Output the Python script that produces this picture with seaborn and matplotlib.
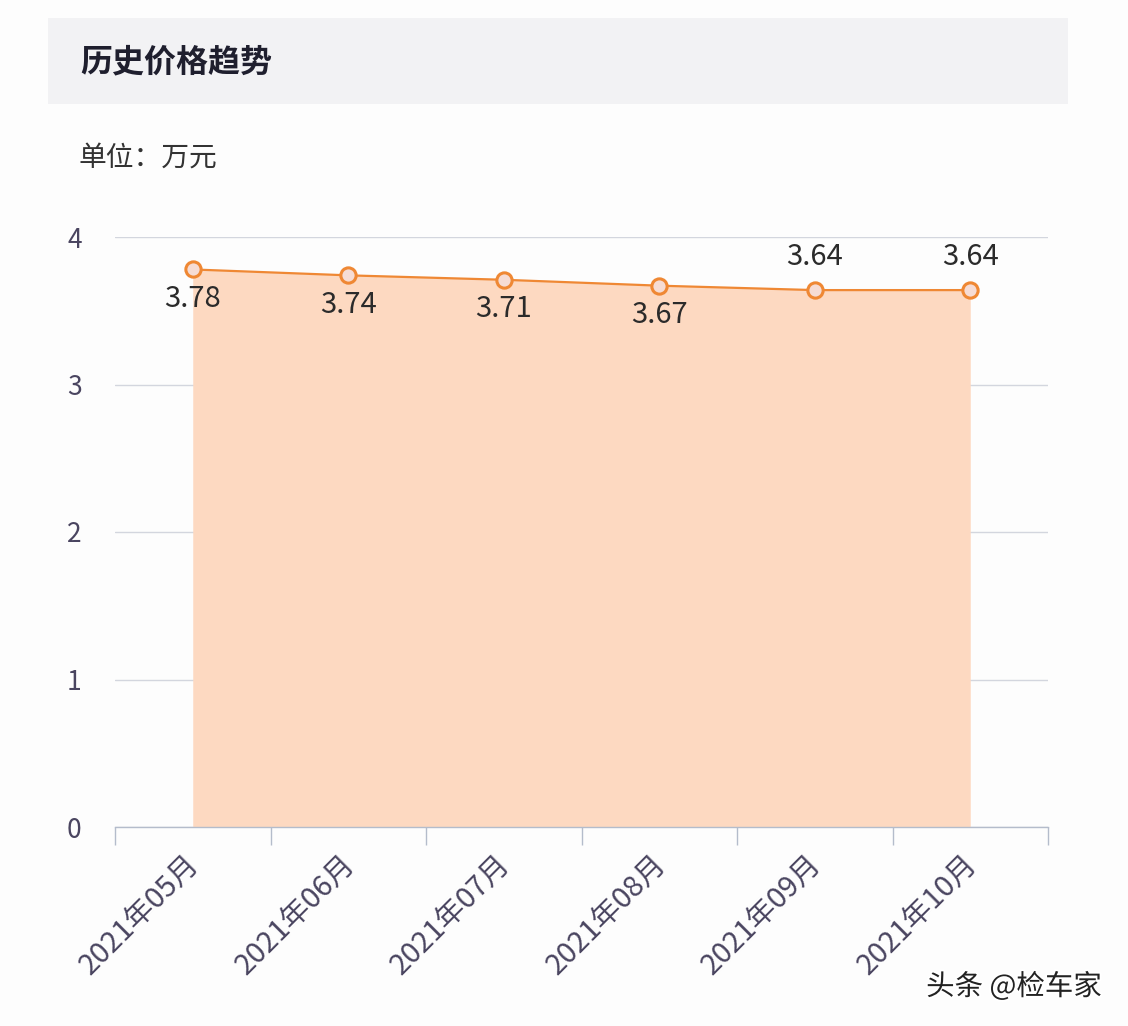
import numpy as np
import pandas as pd
import matplotlib
matplotlib.use("Agg")
import matplotlib.pyplot as plt
import matplotlib.patheffects as pe
from matplotlib.patches import Rectangle
import seaborn as sns

months = ["2021年05月", "2021年06月", "2021年07月", "2021年08月", "2021年09月", "2021年10月"]
prices = [3.78, 3.74, 3.71, 3.67, 3.64, 3.64]
label_above = [False, False, False, False, True, True]
yticks = [0, 1, 2, 3, 4]

sns.set_style("white")
plt.rcParams['font.family'] = ['Noto Sans CJK SC', 'DejaVu Sans']

LINE = "#ef8834"
FILL = "#fdd9c1"
TXT = "#4a4560"

df = pd.DataFrame({"month": months, "price": prices, "pos": np.arange(len(months))})

fig = plt.figure(figsize=(11.28, 10.26), dpi=100, facecolor="#fdfdfd")
ax = fig.add_axes([115 / 1128, 1 - 827 / 1026, (1048 - 115) / 1128, (827 - 237) / 1026])
ax.set_facecolor("#fdfdfd")

# header box
fig.patches.append(Rectangle((48 / 1128, 1 - 104 / 1026), 1020 / 1128, 86 / 1026,
                             transform=fig.transFigure, facecolor="#f2f2f4",
                             edgecolor="none", zorder=0))
fig.text(80 / 1128, 1 - 62 / 1026, "历史价格趋势", fontsize=23, fontweight="bold",
         color="#1f1f2e", va="center", ha="left")
fig.text(79 / 1128, 1 - 158 / 1026, "单位：万元", fontsize=20, color="#333333",
         va="center", ha="left")

ax.fill_between(df["pos"], 0, df["price"], color=FILL, linewidth=0, zorder=1)
sns.lineplot(data=df, x="pos", y="price", ax=ax, color=LINE, linewidth=1.6,
             marker="o", markersize=11, markerfacecolor="#f6dcd4",
             markeredgecolor=LINE, markeredgewidth=2.2, zorder=3, clip_on=False)

for x, v, up in zip(df["pos"], prices, label_above):
    ax.annotate(f"{v:.2f}", (x, v), xytext=(0, 24 if up else -21), textcoords="offset points",
                ha="center", va="center", fontsize=21, color="#2b2b2b")

ax.set_xlim(-0.5, len(months) - 0.5)
ax.set_ylim(0, 4)
ax.set_yticks(yticks)
ax.set_yticklabels([str(t) for t in yticks], fontsize=19, color=TXT)
ax.tick_params(axis="y", length=0, pad=24)
ax.yaxis.grid(True, color="#d3d6de", linewidth=1)
ax.xaxis.grid(False)

ax.set_xticks(df["pos"])
ax.set_xticklabels(months, rotation=45, ha="right", va="center_baseline",
                   rotation_mode="anchor", fontsize=21, color=TXT)
ax.set_xticks(np.arange(-0.5, len(months)), minor=True)
ax.tick_params(axis="x", which="major", length=0, pad=22)
ax.tick_params(axis="x", which="minor", length=13, width=1, color="#b4bccb", bottom=True)

for s in ["top", "right", "left"]:
    ax.spines[s].set_visible(False)
ax.spines["bottom"].set_color("#b4bccb")
ax.spines["bottom"].set_linewidth(1)
ax.set_xlabel("")
ax.set_ylabel("")

fig.text(1102 / 1128, 1 - 987 / 1026, "头条 @检车家", fontsize=20.5, color="#222222",
         ha="right", va="center",
         path_effects=[pe.withStroke(linewidth=3, foreground="white")])

fig.savefig("out.png", dpi=100, facecolor=fig.get_facecolor())
